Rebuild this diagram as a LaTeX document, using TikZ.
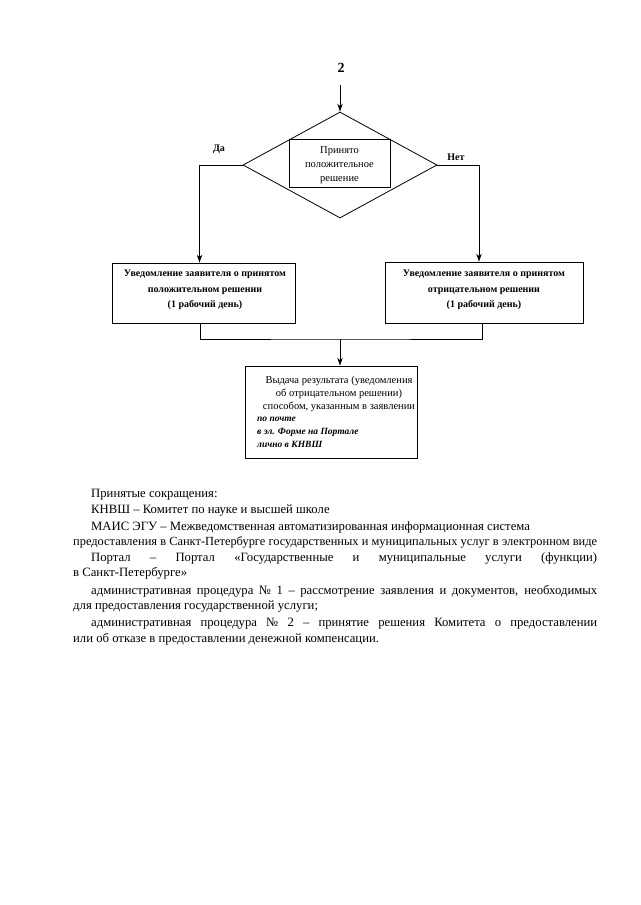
\documentclass[tikz,border=0pt]{standalone}
\usepackage{fontspec}
\setmainfont{Liberation Serif}
\usetikzlibrary{shapes.geometric,arrows.meta}
\tikzset{
  arr/.style={line width=0.8pt, -{Stealth[length=8pt,width=5.5pt]}},
  ln/.style={line width=0.8pt},
  sbox/.style={draw, line width=0.8pt, inner sep=0pt},
  boxtxt/.style={font=\fontsize{10}{15.5}\selectfont\bfseries, align=center, inner sep=0pt},
  lbl/.style={font=\fontsize{10}{12}\selectfont\bfseries, inner sep=0pt},
  midtxt/.style={font=\fontsize{10.5}{13}\selectfont, inner sep=0pt, anchor=base},
  ittxt/.style={font=\fontsize{9.5}{12}\selectfont\bfseries\itshape, inner sep=0pt, anchor=base west},
  body/.style={font=\fontsize{12.7}{15}\selectfont, inner sep=0pt, anchor=base west}
}
\begin{document}
\begin{tikzpicture}[x=1pt,y=-1pt]
\useasboundingbox (0,0) rectangle (640,905);
% top label
\node[font=\fontsize{14}{16}\selectfont\bfseries, inner sep=0pt] (n2) at (341,68) {2};
% decision
\node[diamond, draw, line width=0.8pt, aspect=1.83, minimum width=194pt, minimum height=106pt, inner sep=0pt] (dec) at (340,165) {};
\coordinate (c2) at (dec.north |- 0,85);
\node[sbox, minimum width=101pt, minimum height=48pt] (decbox) at (339.5,163) {};
\node[font=\fontsize{10.5}{14}\selectfont, align=center, inner sep=0pt] (dectxt) at (339.5,165) {Принято\\положительное\\решение};
\draw[arr] (c2) -- (dec.north);
% labels
\node[lbl] (da) at (219,149) {Да};
\node[lbl] (net) at (456,157) {Нет};
% side boxes
\node[sbox, minimum width=183pt, minimum height=60pt] (lbox) at (203.5,293) {};
\node[boxtxt] (ltxt) at (205,290) {Уведомление заявителя о принятом\\положительном решении\\(1 рабочий день)};
\node[sbox, minimum width=198pt, minimum height=61pt] (rbox) at (484,292.5) {};
\node[boxtxt] (rtxt) at (484,290) {Уведомление заявителя о принятом\\отрицательном решении\\(1 рабочий день)};
\draw[arr] (dec.west) -| ([xshift=-4pt]lbox.north);
\draw[arr] (dec.east) -| ([xshift=-5pt]rbox.north);
% bottom box
\node[sbox, minimum width=172pt, minimum height=92pt] (bbox) at (331,412) {};
\node[midtxt] (b1) at (339,383) {Выдача результата (уведомления};
\node[midtxt] (b2) at (339,396) {об отрицательном решении)};
\node[midtxt] (b3) at (339,409) {способом, указанным в заявлении};
\node[ittxt] (i1) at (257,421) {по почте};
\node[ittxt] (i2) at (257,434) {в эл. Форме на Портале};
\node[ittxt] (i3) at (257,447) {лично в КНВШ};
\coordinate (join) at (340,339);
\draw[ln] ([xshift=-3.5pt]lbox.south) |- (join) -| ([xshift=-2pt]rbox.south);
\draw[arr] (join) -- (join |- bbox.north);
% body text
\node[body] (t1) at (91,497) {Принятые сокращения:};
\node[body] (t2) at (91,513) {КНВШ – Комитет по науке и высшей школе};
\node[body] (t3) at (91,530) {МАИС ЭГУ – Межведомственная автоматизированная информационная система};
\node[body, font=\fontsize{12.4}{15}\selectfont] (t4) at (73,545) {\hbox to 524pt{предоставления в Санкт-Петербурге государственных и муниципальных услуг в электронном виде}};
\node[body] (t5) at (91,561) {\hbox to 506pt{Портал \ \ – \ \ Портал \ \ «Государственные \ \ и \ \ муниципальные \ \ услуги \ \ (функции)}};
\node[body] (t6) at (73,576) {в Санкт-Петербурге»};
\node[body] (t7) at (91,594) {\hbox to 506pt{административная процедура № 1 – рассмотрение заявления и документов, необходимых}};
\node[body] (t8) at (73,609) {для предоставления государственной услуги;};
\node[body] (t9) at (91,626) {\hbox to 506pt{административная процедура № 2 – принятие решения Комитета о предоставлении}};
\node[body] (t10) at (73,642) {или об отказе в предоставлении денежной компенсации.};
\end{tikzpicture}
\end{document}
